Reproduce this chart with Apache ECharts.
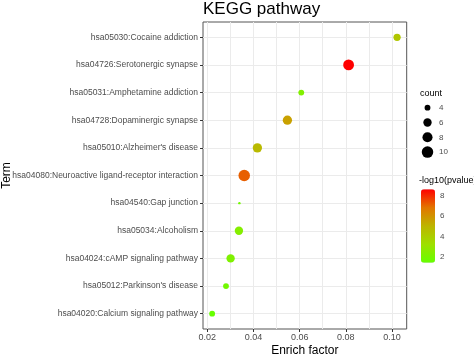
<!DOCTYPE html>
<html><head><meta charset="utf-8">
<script src="https://cdn.jsdelivr.net/npm/echarts@6/dist/echarts.min.js"></script>
<style>html,body{margin:0;padding:0;background:#fff}#c{width:474px;height:354px}</style>
</head><body><div id="c"></div>
<script>
// Terms listed top to bottom as in the chart
const terms = [
  'hsa05030:Cocaine addiction',
  'hsa04726:Serotonergic synapse',
  'hsa05031:Amphetamine addiction',
  'hsa04728:Dopaminergic synapse',
  "hsa05010:Alzheimer's disease",
  'hsa04080:Neuroactive ligand-receptor interaction',
  'hsa04540:Gap junction',
  'hsa05034:Alcoholism',
  'hsa04024:cAMP signaling pathway',
  "hsa05012:Parkinson's disease",
  'hsa04020:Calcium signaling pathway'
];
const enrichFactor = [0.1022, 0.0812, 0.0607, 0.0547, 0.0417, 0.0360, 0.0339, 0.0337, 0.0301, 0.0281, 0.0221];
const geneCount    = [5, 9, 4, 7, 7, 10, 3, 6, 6, 4, 4];
const negLog10P    = [4.3, 8.67, 2.3, 5.6, 4.8, 7.2, 1.8, 2.4, 2.2, 1.8, 1.4];

const xTickValues = [0.02, 0.04, 0.06, 0.08, 0.10];
const xGridValues = [0.02, 0.03, 0.04, 0.05, 0.06, 0.07, 0.08, 0.09, 0.10];
const countLegendValues = [4, 6, 8, 10];
const colorTickValues = [2, 4, 6, 8];
const colorStops = ['#66ff00', '#9ee000', '#bdb400', '#e27600', '#ff0000'];

const X_MIN = 0.01814, X_MAX = 0.10637;
const C_MIN = Math.min(...geneCount), C_MAX = Math.max(...geneCount);
const P_MIN = Math.min(...negLog10P), P_MAX = Math.max(...negLog10P);
function sizeOf(c) {
  const s = Math.sqrt(Math.max(0, (c - C_MIN) / (C_MAX - C_MIN)));
  return 2.4 + 9.1 * s;
}

const FONT = "'Liberation Sans', Arial, sans-serif";
const chart = echarts.init(document.getElementById('c'), null, {renderer: 'canvas'});
chart.setOption({
  animation: false,
  textStyle: {fontFamily: FONT},
  title: [
    {text: 'KEGG pathway', left: 203, top: 1, padding: 0,
     textStyle: {fontSize: 17, fontWeight: 'normal', color: '#000', fontFamily: FONT}},
    {text: 'count', left: 420, top: 89, padding: 0,
     textStyle: {fontSize: 9, fontWeight: 'normal', color: '#000', fontFamily: FONT}},
    {text: '-log10(pvalue)', left: 419, top: 176, padding: 0,
     textStyle: {fontSize: 9, fontWeight: 'normal', color: '#000', fontFamily: FONT}}
  ],
  grid: [
    {left: 203, top: 22, width: 203.7, height: 307, show: true, borderColor: '#555', borderWidth: 1, backgroundColor: '#fff', containLabel: false, outerBoundsMode: 'none'},
    {left: 203, top: 37.3, width: 203.7, height: 276.4, containLabel: false, outerBoundsMode: 'none'},
    {left: 420, top: 100.3, width: 15, height: 59.2, containLabel: false, outerBoundsMode: 'none'},
    {left: 421, top: 189.3, width: 14, height: 73.4, containLabel: false, outerBoundsMode: 'none'}
  ],
  xAxis: [
    {type: 'value', gridIndex: 0, position: 'bottom', min: X_MIN, max: X_MAX,
     axisLine: {show: false},
     axisTick: {show: true, customValues: xTickValues, length: 3, lineStyle: {color: '#333', width: 1}},
     axisLabel: {customValues: xTickValues, formatter: v => v.toFixed(2), fontSize: 9, color: '#4d4d4d', margin: 4},
     splitLine: {show: false},
     name: 'Enrich factor', nameLocation: 'middle', nameGap: 16, nameMoveOverlap: false,
     nameTextStyle: {fontSize: 12, color: '#000'}},
    {type: 'value', gridIndex: 0, position: 'top', min: X_MIN, max: X_MAX,
     axisLine: {show: false},
     axisTick: {show: false, customValues: xGridValues},
     axisLabel: {show: false, customValues: xGridValues},
     splitLine: {show: true, lineStyle: {color: '#ebebeb', width: 1}}},
    {type: 'value', gridIndex: 1, min: X_MIN, max: X_MAX, show: false},
    {type: 'value', gridIndex: 2, min: 0, max: 1, show: false},
    {type: 'value', gridIndex: 3, min: 0, max: 1, show: false}
  ],
  yAxis: [
    {type: 'value', gridIndex: 0, min: 0, max: 1, show: false},
    {type: 'category', gridIndex: 1, data: terms, inverse: true, boundaryGap: false,
     axisLine: {show: false},
     axisTick: {show: true, length: 3, lineStyle: {color: '#333', width: 1}},
     axisLabel: {fontSize: 8.5, color: '#4d4d4d', margin: 5},
     splitLine: {show: true, lineStyle: {color: '#ebebeb', width: 1}},
     name: 'Term', nameLocation: 'middle', nameGap: 190, nameMoveOverlap: false,
     nameTextStyle: {fontSize: 12, color: '#000'}},
    {type: 'category', gridIndex: 2, data: countLegendValues.map(String), inverse: true, boundaryGap: true,
     position: 'right',
     axisLine: {show: false}, axisTick: {show: false},
     axisLabel: {fontSize: 8, color: '#4d4d4d', margin: 4},
     splitLine: {show: false}},
    {type: 'value', gridIndex: 3, min: P_MIN, max: P_MAX, position: 'right',
     axisLine: {show: false}, axisTick: {show: false, customValues: colorTickValues},
     axisLabel: {customValues: colorTickValues, fontSize: 8, color: '#4d4d4d', margin: 5},
     splitLine: {show: false}}
  ],
  visualMap: [{
    type: 'continuous', seriesIndex: 0, dimension: 3,
    min: P_MIN, max: P_MAX, calculable: false, hoverLink: false,
    left: 421, top: 189.3, itemWidth: 14, itemHeight: 73.4, padding: 0,
    text: null, inRange: {color: colorStops}
  }],
  series: [
    {type: 'scatter', xAxisIndex: 2, yAxisIndex: 1, z: 5,
     data: terms.map((t, i) => [enrichFactor[i], t, geneCount[i], negLog10P[i]]),
     symbolSize: d => sizeOf(d[2]),
     itemStyle: {opacity: 1}},
    {type: 'scatter', xAxisIndex: 3, yAxisIndex: 2,
     data: countLegendValues.map(v => [0.5, String(v), v]),
     symbolSize: d => sizeOf(d[2]),
     itemStyle: {color: '#000', opacity: 1}},
    {type: 'scatter', xAxisIndex: 4, yAxisIndex: 3, data: []}
  ]
});
</script>
</body></html>
